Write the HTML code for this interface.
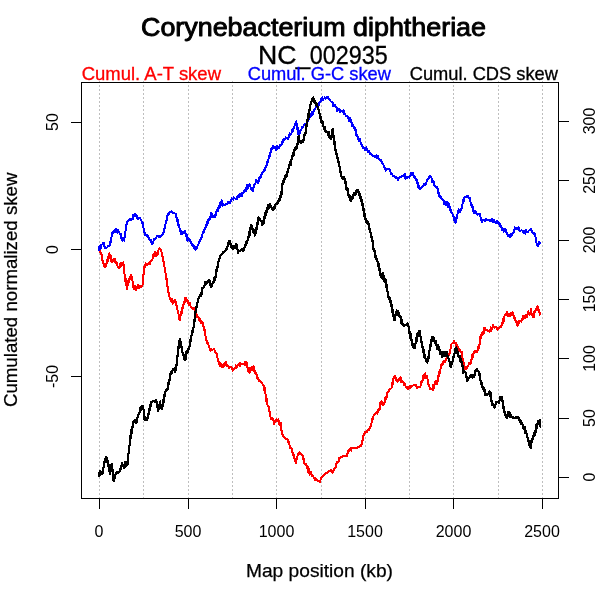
<!DOCTYPE html>
<html><head><meta charset="utf-8">
<style>
html,body{margin:0;padding:0;background:#fff;}
body{width:600px;height:600px;overflow:hidden;position:relative;font-family:"Liberation Sans",sans-serif;}
svg{position:absolute;left:0;top:0;will-change:transform;-webkit-font-smoothing:antialiased;}
text{font-family:"Liberation Sans",sans-serif;}
</style></head><body>
<svg width="600" height="600" viewBox="0 0 600 600">
<rect width="600" height="600" fill="#fff"/>
<!-- grid -->
<g stroke="#bebebe" stroke-width="1" stroke-dasharray="2,2" shape-rendering="crispEdges">
<line x1="99.5" y1="81" x2="99.5" y2="498"/>
<line x1="143.5" y1="81" x2="143.5" y2="498"/>
<line x1="188.5" y1="81" x2="188.5" y2="498"/>
<line x1="232.5" y1="81" x2="232.5" y2="498"/>
<line x1="276.5" y1="81" x2="276.5" y2="498"/>
<line x1="321.5" y1="81" x2="321.5" y2="498"/>
<line x1="365.5" y1="81" x2="365.5" y2="498"/>
<line x1="409.5" y1="81" x2="409.5" y2="498"/>
<line x1="453.5" y1="81" x2="453.5" y2="498"/>
<line x1="498.5" y1="81" x2="498.5" y2="498"/>
<line x1="542.5" y1="81" x2="542.5" y2="498"/>
</g>
<!-- CURVES -->
<g fill="none" stroke-linejoin="round" stroke-linecap="round" stroke-width="2.0" shape-rendering="crispEdges">
<path stroke="#ff0000" d="M98.7 249.7L99.1 248.8L99.5 251.2L99.8 252.4L100.2 250.3L100.6 253.7L101.0 254.5L101.3 253.0L101.7 255.8L101.9 258.0L102.1 254.9L102.2 257.8L102.4 258.3L102.6 262.2L102.8 260.3L103.0 261.6L103.1 262.6L103.3 263.4L103.5 263.0L103.7 264.7L103.8 265.5L104.0 266.6L104.2 266.7L104.7 266.6L105.1 265.8L105.6 266.6L106.1 264.3L106.6 263.2L107.0 260.2L107.5 261.7L107.7 261.2L107.9 260.7L108.2 259.8L108.4 256.4L108.6 257.8L108.8 256.6L109.0 258.6L109.3 253.2L109.5 255.0L109.7 254.2L109.9 254.6L110.1 256.3L110.4 256.3L110.6 255.3L110.8 258.5L111.0 258.6L111.3 257.5L111.5 262.1L111.7 260.8L112.3 262.3L113.0 259.8L113.6 259.8L114.2 259.2L114.5 259.8L114.9 258.5L115.2 260.8L115.6 263.4L115.9 262.1L116.2 263.3L116.6 263.7L116.9 263.0L117.3 263.8L117.6 266.3L118.0 266.5L118.3 267.5L118.9 266.9L119.4 268.2L120.0 265.4L120.5 262.8L121.1 265.4L121.6 265.7L122.2 263.2L122.7 263.3L123.3 262.5L123.4 262.9L123.5 264.5L123.6 264.5L123.7 265.5L123.8 266.2L123.9 266.6L124.0 268.7L124.1 268.5L124.2 269.3L124.2 270.7L124.3 270.8L124.4 269.9L124.5 274.3L124.6 274.2L124.7 274.3L124.8 274.9L124.9 278.0L125.0 276.7L125.1 278.1L125.3 278.3L125.4 281.4L125.5 277.4L125.7 280.7L125.8 282.9L125.9 282.6L126.1 282.7L126.2 283.9L126.3 285.1L126.5 283.8L126.6 284.3L126.7 286.8L126.9 289.3L127.0 288.3L127.2 288.0L127.4 287.4L127.5 285.5L127.7 284.7L127.9 282.7L128.1 283.3L128.3 280.9L128.5 282.1L128.6 281.1L128.8 282.5L129.0 280.0L129.2 279.2L129.6 280.0L130.0 279.2L130.5 276.6L130.9 274.9L131.3 275.8L131.5 276.7L131.6 278.9L131.8 276.3L132.0 279.3L132.2 280.1L132.3 280.8L132.5 280.9L132.7 281.4L132.8 283.4L133.0 283.3L133.2 284.2L133.4 287.7L133.5 285.4L133.7 286.7L134.2 289.5L134.8 286.2L135.3 286.2L135.8 289.2L136.1 290.0L136.5 287.6L136.8 288.6L137.2 288.1L137.5 285.8L137.9 284.8L138.3 285.2L138.8 285.4L139.2 288.3L139.9 286.1L140.5 287.3L141.2 286.3L141.8 286.7L142.5 285.8L142.6 283.4L142.6 281.9L142.7 282.9L142.8 283.2L142.9 282.4L142.9 278.7L143.0 280.4L143.1 279.5L143.1 279.3L143.2 279.7L143.3 275.4L143.3 278.6L143.4 275.5L143.5 274.6L143.6 273.6L143.6 270.8L143.7 272.9L143.8 273.5L143.8 270.2L143.9 269.6L144.0 268.6L144.1 269.7L144.1 267.5L144.2 266.7L144.5 265.9L144.8 265.7L145.2 266.8L145.5 264.3L145.8 263.3L146.4 264.0L146.9 264.6L147.5 265.0L148.0 264.0L148.5 264.2L149.0 263.1L149.5 263.1L150.0 264.3L150.5 261.3L151.0 261.3L151.5 260.8L152.0 260.4L152.5 259.2L152.7 258.0L152.9 255.2L153.1 257.4L153.3 256.1L153.6 255.4L153.8 254.8L154.0 254.1L154.2 253.3L154.7 256.0L155.2 252.0L155.8 253.3L156.3 255.8L156.6 255.7L156.9 254.7L157.2 253.1L157.5 252.3L157.8 252.7L158.0 253.7L158.3 250.2L158.6 249.9L158.9 249.1L159.2 248.3L159.6 248.4L160.0 249.4L160.4 248.7L160.9 250.8L161.3 251.5L161.7 252.5L161.9 253.7L162.0 254.7L162.2 254.8L162.3 256.0L162.5 256.2L162.6 256.7L162.8 257.5L162.9 258.8L163.1 259.9L163.3 259.8L163.4 261.2L163.6 261.9L163.7 262.7L163.9 265.6L164.0 264.3L164.2 265.0L164.3 266.1L164.4 266.1L164.6 267.2L164.7 268.8L164.8 269.3L164.9 270.1L165.0 272.6L165.2 272.0L165.3 272.8L165.4 272.9L165.5 273.3L165.6 274.8L165.7 276.0L165.9 276.3L166.0 277.2L166.1 277.1L166.2 278.2L166.3 279.0L166.5 278.0L166.6 281.3L166.7 281.7L166.8 282.8L166.9 283.4L167.1 283.7L167.2 285.3L167.3 285.1L167.4 286.4L167.6 286.6L167.7 288.3L167.8 288.5L167.9 288.9L168.1 290.9L168.2 290.9L168.3 292.0L168.4 291.0L168.6 292.8L168.7 294.2L168.9 295.5L169.2 295.6L169.4 295.8L169.6 297.5L169.9 297.9L170.1 298.9L170.3 299.2L170.6 299.7L170.8 300.8L171.4 301.5L172.1 299.3L172.7 303.8L173.3 302.5L173.8 302.2L174.3 300.8L174.8 300.2L175.3 300.0L175.5 300.7L175.6 301.8L175.8 302.0L176.0 302.6L176.1 305.6L176.3 304.3L176.5 305.7L176.7 305.6L176.8 306.9L177.0 306.3L177.2 307.8L177.3 309.5L177.5 310.0L177.7 310.8L177.8 312.1L178.0 312.5L178.2 311.6L178.3 313.8L178.5 314.2L178.7 317.3L178.9 315.8L179.0 316.7L179.2 318.2L179.4 317.8L179.5 319.7L179.7 320.0L179.9 319.1L180.1 319.1L180.2 318.2L180.4 316.5L180.6 315.6L180.8 313.4L181.0 312.8L181.2 314.5L181.3 311.2L181.5 314.7L181.7 311.7L181.9 310.5L182.1 309.7L182.3 307.2L182.5 308.8L182.7 308.0L182.9 305.0L183.0 305.9L183.2 305.8L183.4 305.4L183.6 304.1L183.8 303.5L184.0 303.0L184.2 301.7L184.5 303.2L184.9 300.6L185.2 298.1L185.6 299.4L186.0 297.6L186.3 297.5L186.6 300.2L187.0 300.3L187.3 299.5L187.6 302.6L188.0 300.9L188.3 301.7L188.7 302.1L189.0 304.6L189.4 305.3L189.7 302.9L190.1 304.8L190.4 305.4L190.8 306.7L191.6 307.0L192.5 309.2L193.3 307.5L193.7 308.7L194.2 308.3L194.6 309.4L195.0 310.0L195.3 311.2L195.6 311.5L195.8 314.5L196.1 315.0L196.4 315.2L196.7 316.8L196.9 315.0L197.2 315.8L197.5 316.7L198.1 317.7L198.8 318.0L199.4 320.9L200.0 319.2L200.5 319.8L201.0 323.0L201.5 321.8L202.0 322.4L202.5 322.5L202.7 323.7L202.8 326.0L203.0 325.1L203.2 325.8L203.3 326.8L203.5 326.9L203.7 328.4L203.9 328.1L204.0 327.2L204.2 330.0L204.4 330.3L204.6 331.9L204.7 329.8L204.9 333.4L205.1 331.7L205.3 334.1L205.4 333.3L205.6 337.5L205.8 337.4L206.0 337.4L206.2 338.6L206.3 339.8L206.5 340.3L206.7 340.8L207.0 342.1L207.3 342.6L207.5 343.7L207.8 342.4L208.1 344.4L208.4 344.7L208.6 346.0L208.9 346.7L209.2 347.5L209.8 348.8L210.4 350.9L211.1 349.4L211.7 350.0L212.5 349.8L213.4 349.2L214.2 349.2L214.5 350.1L214.8 350.4L215.1 352.0L215.4 352.1L215.8 352.9L216.1 353.1L216.4 353.8L216.7 355.0L216.9 356.4L217.1 354.0L217.3 357.4L217.5 357.9L217.7 359.4L217.9 360.1L218.2 360.8L218.4 361.1L218.6 361.7L218.8 362.6L219.0 363.4L219.2 364.2L219.8 366.3L220.4 363.1L221.1 365.6L221.7 366.7L222.2 366.7L222.6 366.1L223.1 364.8L223.6 366.6L224.1 364.0L224.5 363.7L225.0 362.5L225.5 362.6L226.0 362.2L226.5 366.0L227.0 364.6L227.5 365.8L228.3 365.6L229.2 368.3L230.0 366.5L230.8 366.7L231.5 367.0L232.2 368.3L232.8 370.6L233.5 369.4L234.2 369.2L234.8 368.2L235.3 368.3L235.8 365.3L236.4 368.4L236.9 366.6L237.5 365.8L238.2 365.2L238.8 364.8L239.5 362.7L240.1 366.2L240.8 363.3L241.6 364.0L242.5 364.3L243.3 364.2L243.9 364.1L244.6 365.4L245.2 362.0L245.8 361.7L246.0 362.3L246.2 363.6L246.4 365.5L246.7 363.1L246.9 363.3L247.1 365.6L247.3 366.5L247.5 367.5L247.9 367.9L248.3 371.0L248.8 367.5L249.2 372.3L249.6 373.0L250.0 371.7L250.5 369.4L250.9 370.3L251.4 367.7L251.9 367.3L252.4 368.3L252.8 370.0L253.3 367.5L253.6 365.9L253.9 368.6L254.1 369.4L254.4 371.0L254.7 372.6L255.0 371.5L255.2 370.5L255.5 372.0L255.8 374.2L256.2 374.7L256.6 373.9L256.9 378.2L257.3 377.4L257.7 379.5L258.1 378.4L258.4 379.1L258.8 380.3L259.2 380.8L259.8 381.4L260.4 381.5L261.1 382.2L261.7 382.5L262.1 383.3L262.5 383.8L262.9 384.8L263.4 384.7L263.8 385.6L264.2 386.7L264.3 389.1L264.4 390.7L264.6 387.2L264.7 391.2L264.8 390.4L264.9 391.7L265.1 392.2L265.2 392.8L265.3 391.2L265.4 392.5L265.6 395.5L265.7 395.7L265.8 396.7L266.0 399.8L266.1 398.9L266.3 401.1L266.4 399.9L266.6 398.0L266.7 401.1L266.9 402.5L267.0 403.1L267.2 403.4L267.3 404.1L267.5 405.0L267.7 405.1L268.0 405.8L268.2 406.5L268.5 405.8L268.7 408.9L269.0 409.7L269.2 410.0L269.3 411.4L269.5 411.5L269.6 412.8L269.8 412.5L269.9 414.3L270.1 412.1L270.2 415.8L270.4 416.2L270.5 417.2L270.7 419.4L270.8 418.3L271.4 419.1L272.1 419.6L272.7 418.2L273.3 420.0L273.7 421.2L274.1 423.7L274.6 421.4L275.0 422.5L275.6 422.0L276.1 419.7L276.6 419.2L277.2 420.7L277.8 419.9L278.3 419.5L278.6 420.2L278.9 421.2L279.2 423.5L279.6 424.8L279.9 422.6L280.2 423.3L280.5 424.5L280.7 422.8L280.8 425.9L281.0 427.2L281.1 427.1L281.3 427.8L281.4 430.9L281.6 430.2L281.7 430.7L281.9 430.8L282.0 432.8L282.2 433.2L282.3 433.4L282.5 434.5L282.9 435.8L283.4 435.6L283.8 436.8L284.2 437.5L284.9 438.2L285.5 438.5L286.2 438.8L286.8 438.9L287.5 439.2L287.7 441.4L288.0 440.5L288.2 441.5L288.5 442.7L288.7 441.4L289.0 443.4L289.2 444.2L289.5 444.5L289.8 447.9L290.1 447.0L290.4 447.2L290.8 448.1L291.1 448.5L291.4 447.6L291.7 450.0L291.9 448.5L292.2 451.8L292.4 451.8L292.7 454.8L292.9 453.1L293.2 455.1L293.4 452.9L293.7 455.6L293.9 457.3L294.2 457.5L294.4 458.3L294.6 458.5L294.8 459.1L295.0 459.8L295.2 461.0L295.4 462.0L295.6 460.1L295.8 463.3L296.0 462.1L296.1 463.6L296.3 460.7L296.5 460.1L296.6 459.0L296.8 458.4L297.0 457.8L297.2 457.4L297.3 456.9L297.5 455.8L298.1 453.8L298.8 454.1L299.4 452.4L300.0 453.3L300.6 453.8L301.2 454.2L301.9 455.1L302.5 455.0L302.7 455.4L302.8 456.7L303.0 457.7L303.2 458.3L303.4 459.2L303.5 459.6L303.7 460.3L303.9 458.9L304.0 462.3L304.2 462.5L304.6 463.7L305.0 464.3L305.4 464.3L305.9 463.7L306.3 464.1L306.7 466.7L307.1 467.7L307.4 467.9L307.8 466.7L308.1 471.9L308.5 468.2L308.8 473.0L309.2 471.7L309.6 474.5L310.0 473.4L310.4 473.5L310.9 472.1L311.3 472.7L311.7 475.8L312.3 476.2L312.9 476.1L313.6 477.2L314.2 477.5L314.8 480.2L315.4 478.5L316.1 479.3L316.7 479.2L317.3 480.4L317.9 481.0L318.6 481.0L319.2 481.7L319.6 480.8L320.0 481.7L320.4 480.0L320.9 478.8L321.3 477.6L321.7 477.5L322.2 476.3L322.8 475.9L323.4 476.4L323.9 474.7L324.4 474.2L325.0 474.2L325.7 473.1L326.3 473.0L327.0 472.8L327.6 472.8L328.3 471.7L328.9 470.8L329.6 471.0L330.2 470.9L330.8 470.0L331.2 470.4L331.6 470.9L332.1 472.2L332.5 472.5L332.9 471.4L333.2 471.4L333.6 470.1L333.9 469.1L334.3 469.5L334.6 468.1L335.0 467.5L335.3 468.4L335.6 467.5L335.9 465.7L336.2 464.2L336.6 463.9L336.9 462.9L337.2 461.8L337.5 461.7L338.0 461.4L338.5 462.2L339.0 457.5L339.5 459.2L340.0 458.3L340.7 457.4L341.3 456.9L342.0 457.4L342.6 456.6L343.3 455.8L344.1 456.2L345.0 455.7L345.9 456.0L346.7 455.8L347.1 455.7L347.4 453.7L347.8 453.2L348.1 452.3L348.5 450.2L348.8 449.9L349.2 450.8L349.7 450.1L350.2 449.3L350.7 448.4L351.2 450.7L351.7 447.5L352.5 447.9L353.4 447.9L354.2 448.3L355.0 448.3L355.8 448.2L356.7 448.3L357.5 447.4L358.4 447.0L359.2 447.2L359.7 446.6L360.2 446.1L360.7 446.0L361.2 444.9L361.7 444.2L361.8 444.0L362.0 442.8L362.1 444.1L362.3 441.2L362.4 440.5L362.6 441.0L362.7 439.2L362.9 437.9L363.0 436.9L363.2 436.3L363.3 435.8L363.8 434.7L364.3 433.9L364.8 432.2L365.3 432.6L365.8 432.5L366.4 431.6L367.1 431.8L367.7 430.0L368.3 430.0L368.7 429.1L369.0 429.0L369.4 430.4L369.7 426.8L370.1 426.7L370.4 427.4L370.8 425.0L371.0 424.8L371.3 423.9L371.5 423.3L371.7 421.6L371.9 419.1L372.2 422.3L372.4 420.0L372.6 419.3L372.8 418.5L373.1 417.4L373.3 416.7L373.8 414.6L374.3 415.4L374.8 414.7L375.3 414.1L375.8 413.3L376.3 412.4L376.8 411.8L377.3 413.8L377.7 410.4L378.2 412.2L378.7 409.2L379.2 409.2L379.4 408.5L379.6 410.2L379.8 406.4L380.0 404.4L380.2 404.9L380.4 402.8L380.6 403.4L380.8 403.3L381.6 401.2L382.5 405.3L383.4 405.1L384.2 402.5L384.5 403.1L384.8 400.5L385.0 400.3L385.3 397.9L385.6 397.4L385.9 398.3L386.1 398.8L386.4 399.0L386.7 395.8L387.0 393.2L387.3 394.6L387.6 392.2L387.9 392.3L388.3 392.5L388.6 391.7L388.9 391.2L389.2 390.0L389.8 389.7L390.4 388.5L391.1 388.5L391.7 387.5L391.8 387.2L392.0 386.2L392.1 382.9L392.3 384.3L392.4 382.1L392.6 382.9L392.7 384.7L392.9 381.8L393.0 380.7L393.2 379.8L393.3 379.2L393.9 377.8L394.4 376.0L395.0 377.0L395.4 376.1L395.7 377.9L396.1 380.6L396.4 379.2L396.8 380.1L397.1 381.1L397.5 381.7L398.1 381.6L398.8 380.7L399.4 377.9L400.0 379.2L400.7 377.5L401.3 382.4L402.0 381.3L402.6 381.7L403.3 381.7L403.7 382.8L404.0 383.3L404.4 385.2L404.7 383.1L405.1 385.0L405.4 385.6L405.8 386.7L406.4 387.0L407.1 388.0L407.7 387.0L408.3 389.2L408.9 388.3L409.4 386.3L410.0 388.0L410.6 387.5L411.1 386.3L411.7 385.8L412.5 385.6L413.4 385.3L414.2 385.0L414.8 385.5L415.3 384.5L415.9 385.3L416.4 386.8L416.9 387.2L417.5 388.3L418.3 386.6L419.2 387.4L420.0 387.5L420.2 386.9L420.5 386.2L420.8 384.6L421.0 384.5L421.2 381.4L421.5 382.8L421.8 382.3L422.0 382.1L422.2 380.5L422.5 380.0L422.8 379.6L423.1 380.4L423.4 375.2L423.7 376.8L424.1 376.8L424.4 377.9L424.7 377.3L425.0 373.4L425.3 373.3L425.6 375.4L425.9 375.4L426.1 377.8L426.4 376.2L426.7 376.7L426.9 376.0L427.2 378.5L427.5 379.2L427.7 380.5L427.9 380.7L428.1 382.1L428.3 380.8L428.5 385.1L428.7 384.4L428.8 384.7L429.0 384.7L429.2 386.2L429.4 386.4L429.6 387.1L429.8 388.9L430.0 389.2L430.8 389.5L431.7 388.9L432.5 389.2L432.8 390.1L433.1 385.3L433.4 387.7L433.6 388.3L433.9 386.2L434.2 385.0L434.8 384.4L435.3 381.4L435.9 382.8L436.4 381.1L436.9 383.9L437.5 381.7L437.7 380.9L437.9 379.9L438.0 379.4L438.2 379.0L438.4 375.6L438.6 376.8L438.8 376.5L438.9 375.0L439.1 374.6L439.3 373.7L439.5 370.9L439.6 373.9L439.8 371.5L440.0 370.8L440.2 370.2L440.4 370.0L440.6 368.6L440.9 367.7L441.1 367.6L441.3 364.4L441.5 365.1L441.7 365.0L442.1 363.9L442.5 363.5L442.9 362.4L443.4 363.9L443.8 361.3L444.2 360.8L444.9 362.3L445.5 360.3L446.2 359.3L446.8 357.0L447.5 358.3L447.8 356.0L448.1 356.5L448.4 356.6L448.8 353.5L449.1 355.3L449.4 354.5L449.7 353.1L450.0 352.5L450.1 351.5L450.2 351.2L450.4 350.7L450.5 348.9L450.6 346.8L450.7 348.0L450.8 347.7L450.9 346.5L451.1 346.0L451.2 345.1L451.3 344.2L452.0 343.6L452.6 343.1L453.3 342.5L454.1 340.5L455.0 343.1L455.8 342.5L456.1 345.7L456.5 343.9L456.8 344.7L457.2 345.8L457.5 346.5L457.8 347.1L458.2 348.4L458.5 348.2L458.9 349.6L459.2 350.0L459.8 350.2L460.4 351.8L461.1 352.0L461.7 352.5L461.8 353.7L461.9 351.7L462.0 354.4L462.2 355.0L462.3 357.8L462.4 356.7L462.5 358.2L462.6 359.0L462.7 361.2L462.8 360.8L463.0 360.7L463.1 361.3L463.2 360.0L463.3 363.3L463.5 366.1L463.7 362.4L463.9 365.8L464.1 366.4L464.4 365.4L464.6 367.8L464.8 367.0L465.0 369.2L465.6 369.3L466.1 366.4L466.6 368.2L467.2 366.3L467.8 366.0L468.3 365.8L468.9 363.0L469.6 364.2L470.2 363.3L470.8 363.3L471.0 360.2L471.2 361.7L471.4 361.1L471.5 360.2L471.7 359.4L471.9 359.3L472.1 357.9L472.3 357.8L472.4 354.8L472.6 357.6L472.8 355.0L473.0 354.2L473.7 352.4L474.4 353.1L475.1 350.7L475.8 352.5L476.3 352.4L476.8 351.4L477.3 352.2L477.7 349.9L478.2 347.1L478.7 347.0L479.2 348.3L479.3 345.7L479.4 344.8L479.5 343.7L479.5 345.3L479.6 342.9L479.7 344.0L479.8 343.1L479.9 341.8L480.0 341.2L480.0 340.4L480.1 337.8L480.2 338.9L480.3 338.3L480.6 335.2L480.9 335.5L481.1 336.8L481.4 337.5L481.7 334.8L481.9 333.3L482.2 332.9L482.5 332.5L483.0 331.8L483.5 333.5L484.0 330.4L484.5 327.6L485.0 329.2L485.6 329.3L486.2 329.8L486.9 330.3L487.5 330.8L488.2 331.4L489.0 331.5L489.7 331.7L490.1 331.4L490.5 328.9L490.9 327.3L491.3 331.3L491.7 328.3L492.4 327.7L493.0 325.1L493.7 327.3L494.3 327.6L495.0 326.7L495.7 326.5L496.3 327.4L497.0 327.8L497.6 329.7L498.3 328.3L499.1 328.3L500.0 327.1L500.8 327.5L501.1 326.2L501.4 326.2L501.6 325.4L501.9 324.0L502.2 323.7L502.4 322.5L502.7 320.1L503.0 321.7L503.2 323.2L503.4 318.6L503.7 321.9L503.9 318.6L504.1 317.7L504.3 316.7L504.6 315.9L504.8 315.7L505.0 315.0L505.6 315.0L506.2 314.6L506.9 311.5L507.5 313.3L508.1 316.4L508.8 315.1L509.4 314.7L510.0 315.8L510.5 313.5L511.0 314.3L511.5 313.6L512.0 314.7L512.5 312.5L512.8 313.5L513.1 313.9L513.4 315.2L513.6 315.3L513.9 318.5L514.2 316.7L514.5 317.8L514.7 317.9L515.0 320.6L515.3 318.9L515.5 320.3L515.8 320.8L516.0 321.8L516.3 322.3L516.5 321.0L516.8 325.4L517.0 324.5L517.3 325.0L517.5 325.8L517.7 325.0L518.0 324.5L518.2 323.2L518.5 324.8L518.7 321.7L519.0 321.5L519.2 320.8L519.9 321.1L520.6 321.2L521.3 321.7L521.5 321.0L521.8 319.9L522.0 319.7L522.3 319.1L522.5 319.9L522.8 317.0L523.0 316.4L523.3 315.8L523.7 315.8L524.1 316.6L524.6 318.3L525.0 318.3L525.5 318.1L526.0 315.2L526.5 314.7L527.0 317.1L527.5 315.0L528.0 314.2L528.4 311.5L528.9 313.0L529.4 314.7L529.9 312.5L530.3 313.8L530.8 310.8L531.0 309.0L531.3 312.6L531.5 313.7L531.8 313.5L532.0 313.9L532.3 315.8L532.5 315.5L532.8 315.3L533.0 317.5L533.2 316.3L533.5 316.7L533.8 315.8L534.0 317.0L534.2 312.0L534.5 312.6L534.8 312.8L535.0 311.7L535.3 310.7L535.6 310.5L535.9 309.0L536.3 308.3L536.6 308.6L536.9 307.6L537.2 306.7L537.5 309.4L537.8 306.4L538.1 308.6L538.3 310.1L538.6 308.9L538.9 312.4L539.2 311.7L539.8 314.6L540.3 313.3"/>
<path stroke="#0000ff" d="M98.7 249.7L99.1 249.7L99.5 246.6L100.0 249.4L100.4 245.0L100.8 248.5L101.2 246.3L101.6 244.9L102.0 244.5L102.5 244.3L102.9 243.7L103.3 242.5L103.5 243.1L103.8 243.5L104.0 243.3L104.3 244.9L104.5 246.8L104.8 246.4L105.0 248.0L105.3 248.3L105.9 248.4L106.6 247.7L107.2 247.5L107.8 246.0L108.4 246.2L109.1 245.5L109.7 245.0L109.9 244.8L110.0 243.9L110.2 243.2L110.4 241.8L110.6 241.7L110.8 240.3L110.9 241.9L111.1 239.3L111.3 238.3L111.5 236.9L111.6 236.9L111.8 235.6L112.0 234.7L112.2 234.0L112.3 233.5L112.5 232.5L113.2 232.6L113.9 231.3L114.6 232.3L115.3 229.7L116.0 228.8L116.7 230.8L117.3 232.9L118.0 229.8L118.6 231.4L119.2 232.5L119.5 232.8L119.8 233.4L120.1 234.1L120.4 234.9L120.7 234.0L121.0 236.4L121.3 238.2L121.6 237.2L121.9 239.5L122.2 239.8L122.5 240.8L123.1 240.0L123.6 239.9L124.2 239.2L124.3 240.7L124.4 237.9L124.6 236.4L124.7 235.8L124.8 237.5L124.9 234.5L125.0 233.6L125.2 233.3L125.3 231.7L125.4 231.5L125.5 231.1L125.6 229.3L125.7 227.4L125.9 228.1L126.0 227.9L126.1 226.1L126.2 225.3L126.3 225.1L126.5 224.4L126.6 225.0L126.7 222.5L127.4 221.6L128.1 221.2L128.8 220.7L129.4 219.3L130.1 219.0L130.8 220.0L131.3 219.3L131.7 218.5L132.2 218.4L132.7 219.3L133.1 214.4L133.6 216.2L134.1 215.7L134.5 214.2L135.0 214.2L135.4 214.4L135.7 215.9L136.1 216.1L136.4 216.9L136.8 215.4L137.1 217.8L137.5 219.2L138.3 218.8L139.2 218.2L140.0 218.3L140.4 218.4L140.7 219.6L141.1 219.9L141.4 220.7L141.8 221.7L142.1 222.9L142.5 223.3L142.7 223.6L142.8 222.8L143.0 225.5L143.2 225.0L143.3 227.6L143.5 228.0L143.7 228.7L143.8 229.2L144.0 230.3L144.2 231.5L144.3 232.3L144.5 232.3L144.7 233.1L144.8 234.5L145.0 235.0L145.8 235.3L146.7 234.9L147.5 236.3L148.3 235.8L148.7 238.9L149.0 237.8L149.4 238.3L149.7 240.4L150.1 239.8L150.4 239.6L150.8 240.2L151.1 242.0L151.4 241.9L151.8 244.4L152.2 241.7L152.5 244.2L152.7 243.9L153.0 242.3L153.2 241.4L153.5 241.9L153.7 238.7L154.0 240.2L154.2 239.2L154.8 238.9L155.3 238.7L155.8 237.8L156.4 237.3L156.9 236.0L157.5 235.8L158.1 236.1L158.8 237.3L159.4 236.4L160.0 237.5L160.5 237.2L160.9 236.5L161.4 235.0L161.9 235.4L162.4 235.0L162.8 233.4L163.3 233.3L163.5 232.9L163.7 229.8L163.9 230.3L164.1 230.2L164.3 229.0L164.5 229.3L164.6 227.7L164.8 227.2L165.0 225.8L165.2 226.2L165.4 224.8L165.6 224.0L165.8 223.3L166.0 222.7L166.2 222.1L166.4 221.7L166.6 218.8L166.8 220.1L167.0 218.2L167.1 217.9L167.3 215.2L167.5 216.3L167.7 215.3L167.9 214.8L168.1 214.6L168.3 213.3L168.9 214.6L169.6 212.9L170.2 212.0L170.8 211.7L171.5 211.5L172.2 212.3L172.9 213.2L173.7 213.3L174.4 213.1L175.1 213.5L175.8 214.2L176.0 213.5L176.2 215.6L176.4 216.2L176.6 219.0L176.8 218.5L177.1 218.3L177.3 220.2L177.5 222.0L177.7 219.1L177.9 222.3L178.1 220.2L178.3 223.3L178.5 225.9L178.7 224.6L178.9 226.2L179.2 226.7L179.4 227.5L179.6 228.5L179.8 229.1L180.0 229.2L180.2 230.5L180.4 230.9L180.7 233.7L180.9 230.9L181.1 234.1L181.3 234.2L181.9 231.9L182.5 233.6L183.2 232.4L183.8 231.6L184.4 231.2L185.0 230.8L185.2 231.7L185.5 233.9L185.7 233.7L185.9 233.6L186.1 236.3L186.4 235.0L186.6 234.4L186.8 237.3L187.0 236.1L187.3 240.7L187.5 239.2L188.3 237.7L189.2 239.9L190.0 240.0L190.3 241.4L190.6 241.4L190.9 241.9L191.2 243.0L191.6 243.7L191.9 245.0L192.2 245.0L192.5 245.8L193.0 246.5L193.5 245.3L194.0 247.3L194.5 248.5L195.0 249.2L195.5 250.2L195.9 247.1L196.4 248.7L196.9 248.5L197.4 247.0L197.8 244.6L198.3 244.2L198.7 243.6L199.0 241.4L199.4 241.4L199.7 241.1L200.1 240.3L200.4 239.2L200.8 239.2L201.1 238.1L201.3 238.1L201.6 237.1L201.8 236.4L202.1 236.0L202.3 235.1L202.6 234.0L202.8 232.7L203.1 232.0L203.3 231.7L203.7 232.8L204.1 230.1L204.4 229.9L204.8 228.7L205.2 228.3L205.6 226.9L205.9 226.8L206.3 225.1L206.7 225.0L207.1 223.9L207.4 221.4L207.8 223.2L208.1 222.1L208.5 219.1L208.8 220.1L209.2 220.0L209.5 217.7L209.8 219.1L210.0 217.2L210.3 217.5L210.6 216.9L210.9 217.7L211.1 212.9L211.4 214.3L211.7 213.3L212.2 214.2L212.7 217.2L213.2 217.1L213.7 216.0L214.2 217.4L214.7 217.5L214.9 214.6L215.1 215.9L215.3 215.0L215.5 214.2L215.7 215.6L215.9 213.5L216.1 211.7L216.3 211.7L216.5 211.1L216.7 210.0L217.2 209.4L217.7 211.1L218.2 208.5L218.7 205.8L219.2 206.7L219.5 205.7L219.8 207.6L220.1 206.9L220.4 202.2L220.7 205.3L221.0 202.3L221.3 201.7L221.7 200.4L222.1 203.6L222.5 206.0L222.9 204.0L223.3 205.0L224.1 205.4L225.0 204.8L225.8 204.4L226.7 204.4L227.5 204.2L228.2 202.2L228.8 203.1L229.5 203.3L230.1 202.2L230.8 201.7L231.3 200.6L231.8 198.2L232.2 198.9L232.7 198.8L233.2 199.7L233.7 197.5L234.4 198.0L235.2 198.5L235.9 199.1L236.7 199.2L237.2 197.2L237.8 196.5L238.3 195.4L238.9 197.5L239.4 194.2L240.0 195.8L240.6 193.9L241.1 194.4L241.7 196.4L242.2 193.1L242.8 193.2L243.3 192.5L243.8 192.2L244.3 190.9L244.8 190.2L245.3 189.4L245.8 189.2L246.2 190.9L246.6 185.4L247.1 189.0L247.5 184.9L247.9 187.9L248.3 185.0L248.9 186.2L249.6 184.2L250.2 186.5L250.8 187.5L251.1 189.6L251.5 188.2L251.8 188.0L252.2 189.6L252.5 190.8L252.7 190.2L252.9 191.2L253.1 188.2L253.3 189.3L253.6 186.7L253.8 187.1L254.0 186.2L254.2 185.0L254.7 184.3L255.2 184.3L255.7 182.5L256.2 179.8L256.7 181.7L257.3 181.4L257.9 182.8L258.6 182.1L259.2 180.0L259.5 176.9L259.8 177.9L260.1 178.3L260.4 177.2L260.8 176.6L261.1 177.4L261.4 174.9L261.7 174.2L262.1 173.6L262.5 172.7L262.9 172.4L263.4 171.4L263.8 171.0L264.2 170.0L264.6 169.9L264.9 170.7L265.3 168.5L265.6 167.0L266.0 166.8L266.3 165.5L266.7 165.0L266.9 164.0L267.2 161.7L267.4 163.4L267.6 161.9L267.8 161.3L268.1 160.7L268.3 160.3L268.5 159.2L268.7 157.6L269.0 156.9L269.2 156.7L269.4 155.8L269.7 155.5L269.9 156.7L270.2 153.7L270.4 152.6L270.7 152.3L270.9 151.2L271.2 149.3L271.4 150.2L271.7 149.2L272.0 147.9L272.3 148.4L272.7 148.7L273.0 146.9L273.3 145.8L273.9 146.7L274.6 146.8L275.2 147.8L275.8 148.3L276.4 150.4L277.1 145.5L277.7 147.3L278.3 146.7L279.0 147.8L279.7 145.8L280.3 144.7L281.0 144.7L281.7 144.2L282.2 143.1L282.6 140.4L283.1 142.4L283.6 138.8L284.1 138.7L284.5 140.2L285.0 139.2L285.7 137.5L286.3 138.3L287.0 138.1L287.6 139.4L288.3 137.5L288.7 137.4L289.1 136.9L289.6 133.2L290.0 135.6L290.4 134.7L290.9 134.3L291.3 133.2L291.7 132.5L292.1 130.2L292.4 131.6L292.8 130.6L293.1 129.1L293.5 129.4L293.8 128.0L294.2 127.5L294.5 126.2L294.9 124.6L295.2 123.5L295.5 122.7L295.9 124.1L296.2 123.0L296.4 121.5L296.5 124.1L296.7 123.8L296.9 126.7L297.0 126.8L297.2 127.1L297.3 129.0L297.5 129.2L297.7 127.6L297.9 131.3L298.1 134.0L298.4 133.1L298.6 131.3L298.8 134.2L299.1 133.1L299.5 132.2L299.8 133.7L300.1 130.8L300.5 130.6L300.8 130.0L301.2 129.5L301.6 128.8L302.1 126.6L302.5 127.0L302.9 127.2L303.4 126.4L303.8 125.1L304.2 125.0L304.8 124.5L305.3 123.5L305.9 123.6L306.4 124.3L306.9 124.4L307.5 121.7L307.9 120.7L308.3 118.4L308.7 119.8L309.1 117.0L309.6 116.5L310.0 115.5L310.4 116.7L310.8 115.8L311.2 115.0L311.6 112.2L312.1 113.2L312.5 115.2L312.9 111.7L313.4 111.9L313.8 111.4L314.2 110.0L314.7 109.0L315.1 108.6L315.6 107.7L316.1 107.0L316.6 106.3L317.0 105.7L317.5 105.0L318.0 104.7L318.4 103.9L318.9 105.6L319.4 102.0L319.9 102.0L320.3 101.6L320.8 100.8L321.5 98.5L322.2 97.3L322.8 99.9L323.5 98.8L324.2 98.3L324.8 97.4L325.4 99.0L326.1 97.4L326.7 96.7L327.3 96.9L327.9 97.3L328.6 99.1L329.2 99.2L329.8 99.6L330.4 100.8L331.1 101.6L331.7 101.7L332.2 102.5L332.7 103.0L333.2 105.8L333.7 106.3L334.2 105.0L334.7 105.0L335.1 106.3L335.6 107.1L336.1 106.8L336.6 107.9L337.0 111.1L337.5 109.2L338.2 109.7L338.9 109.1L339.6 109.9L340.3 112.4L341.0 110.4L341.7 110.8L342.2 110.8L342.8 112.3L343.4 110.0L343.9 112.4L344.4 114.3L345.0 114.2L345.5 115.1L345.9 116.0L346.4 116.1L346.9 116.0L347.4 115.8L347.8 118.3L348.3 118.3L348.7 119.0L349.1 121.2L349.6 117.7L350.0 120.3L350.4 121.7L350.9 121.9L351.3 120.2L351.7 123.3L352.1 124.1L352.4 126.2L352.8 124.8L353.1 125.8L353.5 127.0L353.8 127.1L354.2 128.3L354.5 126.9L354.9 130.1L355.2 130.2L355.5 128.8L355.9 132.3L356.2 134.5L356.5 135.7L356.8 134.7L357.2 135.7L357.5 135.8L357.8 139.1L358.1 137.3L358.4 139.8L358.7 138.7L359.0 140.1L359.3 141.0L359.6 138.7L359.9 141.3L360.2 140.7L360.5 141.5L360.8 144.2L361.3 144.3L361.8 144.8L362.3 145.9L362.7 148.5L363.2 146.5L363.7 147.1L364.2 148.3L364.9 150.2L365.5 149.3L366.2 147.4L366.8 148.5L367.5 150.8L368.1 152.0L368.7 152.0L369.3 151.0L369.9 153.8L370.5 153.2L371.1 154.4L371.7 155.0L372.4 155.0L373.0 156.1L373.7 155.8L374.3 155.8L375.0 156.7L375.7 156.5L376.4 155.1L377.1 157.9L377.8 156.0L378.5 159.2L379.2 159.2L379.7 159.2L380.1 160.1L380.6 161.4L381.1 160.1L381.6 161.8L382.0 162.2L382.5 163.3L382.9 163.5L383.2 164.3L383.6 165.0L383.9 165.6L384.3 167.4L384.6 167.0L385.0 168.3L385.8 170.7L386.7 168.9L387.5 169.3L388.4 169.2L389.2 169.2L389.6 169.3L389.9 170.7L390.3 170.8L390.6 172.4L391.0 173.4L391.3 174.0L391.7 174.2L392.3 174.4L392.9 175.9L393.6 175.8L394.2 176.7L394.9 176.9L395.5 177.7L396.2 177.2L396.8 177.4L397.5 178.3L398.3 180.0L399.2 177.3L400.0 177.5L400.7 177.4L401.3 177.5L402.0 176.0L402.6 175.8L403.3 175.8L404.0 176.4L404.7 173.9L405.4 179.1L406.1 176.9L406.8 176.6L407.5 177.5L408.1 177.5L408.8 177.3L409.4 177.7L410.0 175.8L410.6 175.6L411.2 172.8L411.9 174.2L412.5 173.3L412.8 174.0L413.2 172.6L413.5 175.5L413.9 176.7L414.2 176.7L414.7 177.5L415.2 176.5L415.7 178.5L416.2 179.9L416.7 180.0L416.9 181.3L417.2 183.0L417.4 182.3L417.7 183.3L417.9 183.7L418.2 184.6L418.4 187.7L418.7 188.3L418.9 186.9L419.2 187.4L419.4 186.2L419.7 189.2L420.3 189.3L420.8 188.1L421.4 188.2L421.9 187.5L422.5 186.7L423.2 185.9L423.8 183.6L424.5 184.8L425.1 185.2L425.8 184.2L426.0 183.2L426.3 182.2L426.5 182.4L426.8 179.7L427.0 180.7L427.3 179.6L427.5 179.2L428.0 178.7L428.5 178.1L429.0 177.3L429.5 177.6L430.0 175.8L430.5 175.8L430.8 176.9L431.1 176.7L431.4 177.9L431.6 178.3L431.9 179.8L432.2 182.4L432.5 180.8L432.8 181.4L433.1 182.3L433.4 180.6L433.6 181.9L433.9 183.7L434.2 185.0L434.8 185.4L435.4 186.7L436.1 186.9L436.7 187.5L437.0 188.1L437.3 186.6L437.5 188.1L437.8 190.2L438.1 193.6L438.4 191.3L438.6 194.9L438.9 193.0L439.2 194.2L439.6 197.4L440.0 195.5L440.4 195.7L440.9 196.5L441.3 198.0L441.7 198.3L442.2 199.2L442.6 200.1L443.1 199.7L443.6 200.7L444.1 203.7L444.5 201.7L445.0 202.5L445.6 205.4L446.2 203.5L446.8 203.8L447.4 201.9L448.0 207.2L448.6 203.1L449.2 205.8L449.5 206.0L449.8 209.0L450.0 208.5L450.3 210.8L450.6 209.5L450.9 210.3L451.1 210.5L451.4 212.3L451.7 212.5L452.1 213.1L452.4 213.6L452.8 214.5L453.1 215.9L453.5 216.0L453.8 217.0L454.2 217.5L454.4 220.5L454.6 219.2L454.9 220.6L455.1 220.7L455.3 222.1L455.5 222.5L455.6 222.1L455.8 221.1L455.9 218.9L456.1 219.8L456.2 218.7L456.4 217.6L456.6 218.8L456.7 218.9L456.9 215.9L457.0 215.0L457.3 214.5L457.6 213.5L457.9 212.2L458.3 211.7L458.6 209.5L458.9 210.1L459.2 210.0L459.9 211.9L460.6 209.5L461.3 210.0L461.5 208.8L461.6 208.1L461.8 207.9L461.9 205.2L462.1 205.8L462.2 205.3L462.4 204.3L462.5 204.0L462.7 203.7L462.8 200.7L463.0 201.7L463.3 199.3L463.6 200.2L463.9 201.7L464.1 199.1L464.4 197.6L464.7 197.4L465.0 196.7L465.8 197.0L466.7 196.4L467.5 195.8L467.9 196.3L468.3 197.8L468.8 198.5L469.2 198.0L469.6 199.3L470.0 200.0L470.2 198.2L470.4 201.3L470.7 202.4L470.9 203.1L471.1 204.0L471.3 204.9L471.6 205.5L471.8 206.0L472.0 206.7L472.3 205.3L472.6 206.3L472.9 209.3L473.3 211.1L473.6 212.1L473.9 213.3L474.2 211.7L474.8 210.7L475.4 212.4L476.1 211.8L476.7 214.2L477.4 214.7L478.2 213.7L478.9 214.2L479.7 214.2L479.9 214.5L480.1 213.5L480.3 216.1L480.5 217.2L480.7 218.9L480.9 217.7L481.1 217.7L481.3 220.8L482.0 222.5L482.8 220.3L483.5 220.2L484.3 220.8L485.0 220.8L485.8 218.7L486.6 220.2L487.5 220.1L488.3 220.0L489.1 220.4L490.0 221.0L490.9 220.3L491.7 220.8L492.4 218.8L493.0 221.8L493.7 221.6L494.3 220.4L495.0 222.5L495.7 222.6L496.4 222.6L497.1 221.0L497.8 222.3L498.5 223.6L499.2 224.2L499.6 223.1L500.0 225.3L500.4 226.6L500.9 227.5L501.3 225.8L501.7 228.3L502.4 230.2L503.0 228.9L503.7 231.8L504.3 229.1L505.0 230.0L505.4 230.7L505.7 229.3L506.1 232.5L506.4 232.4L506.8 233.4L507.1 233.8L507.5 235.0L508.3 236.3L509.1 235.0L510.0 236.8L510.8 234.2L511.6 235.7L512.5 233.3L513.3 233.3L513.6 232.4L513.9 231.4L514.1 231.5L514.4 230.5L514.7 227.4L515.0 229.2L515.6 228.5L516.2 228.8L516.9 228.1L517.5 227.5L517.8 227.5L518.2 227.3L518.5 230.0L518.9 228.0L519.2 230.8L520.0 231.2L520.9 230.5L521.7 230.3L522.5 230.8L523.2 231.7L523.9 233.3L524.6 231.2L525.3 233.6L526.0 230.2L526.7 232.5L527.4 231.8L528.0 231.8L528.7 230.8L529.3 230.3L530.0 230.0L530.6 228.9L531.2 229.4L531.9 231.8L532.5 232.5L533.1 233.0L533.8 233.1L534.4 234.1L535.0 234.2L535.1 235.4L535.3 235.4L535.4 236.8L535.5 237.2L535.7 238.4L535.8 239.1L535.9 239.7L536.1 239.2L536.2 241.7L536.5 242.6L536.7 245.5L537.0 243.6L537.2 245.1L537.5 245.8L538.1 245.7L538.8 242.2L539.4 244.4L540.0 243.3"/>
<path stroke="#000000" stroke-width="2.2" d="M98.7 475.8L99.0 473.1L99.4 474.6L99.8 471.0L100.1 473.1L100.5 474.6L100.8 471.7L101.7 471.9L102.5 472.5L102.7 471.3L102.8 473.5L103.0 469.5L103.1 469.5L103.3 467.9L103.4 467.8L103.6 467.6L103.8 466.9L103.9 465.9L104.1 465.4L104.2 463.3L104.4 461.2L104.5 462.8L104.7 461.4L104.8 460.9L105.0 460.0L105.3 459.0L105.7 460.8L106.0 458.1L106.3 456.7L106.5 457.7L106.7 461.0L106.9 459.0L107.1 459.2L107.2 460.5L107.4 460.4L107.6 462.6L107.8 460.5L108.0 463.3L108.2 466.2L108.3 464.3L108.5 466.0L108.7 466.5L108.8 467.8L109.0 465.0L109.2 468.0L109.3 468.7L109.5 472.1L109.7 468.1L109.8 471.5L110.0 472.5L110.2 473.8L110.3 470.8L110.5 470.5L110.6 471.6L110.8 468.3L110.9 468.7L111.1 467.3L111.2 469.3L111.4 465.5L111.5 464.4L111.7 464.2L111.8 464.8L111.9 466.5L112.0 466.3L112.1 467.6L112.2 467.6L112.3 469.4L112.4 470.1L112.5 468.9L112.6 471.8L112.7 472.3L112.8 473.3L112.9 473.3L113.1 475.2L113.2 475.1L113.4 475.9L113.5 479.5L113.6 480.6L113.8 478.1L113.9 480.0L114.1 477.3L114.2 480.8L114.4 479.6L114.5 477.3L114.7 478.7L114.8 477.6L115.0 476.4L115.2 476.4L115.3 475.6L115.5 474.7L115.6 473.7L115.8 473.3L116.5 472.3L117.2 472.2L117.8 472.8L118.5 472.0L119.2 471.7L119.5 471.7L119.9 469.5L120.2 469.8L120.5 469.4L120.8 468.5L121.2 467.7L121.5 465.9L121.8 462.9L122.2 465.6L122.5 464.2L122.8 465.5L123.1 464.8L123.3 465.7L123.6 467.2L123.9 467.5L124.2 468.3L124.4 467.6L124.6 466.3L124.8 465.8L125.0 464.8L125.2 462.4L125.4 464.0L125.6 463.0L125.8 461.7L126.1 464.0L126.5 465.4L126.8 463.0L127.2 464.8L127.5 465.0L127.6 464.6L127.6 461.8L127.7 463.2L127.8 463.8L127.9 460.9L127.9 460.4L128.0 459.1L128.1 458.2L128.1 458.3L128.2 456.5L128.3 458.6L128.3 455.7L128.4 454.1L128.5 453.4L128.6 453.7L128.6 453.2L128.7 451.7L128.8 450.2L128.9 452.6L129.0 451.2L129.1 445.7L129.2 448.3L129.3 446.6L129.4 445.6L129.5 445.6L129.6 445.0L129.8 444.1L129.9 442.3L130.0 441.4L130.1 443.0L130.2 438.1L130.3 440.3L130.4 439.5L130.5 435.7L130.6 438.1L130.7 437.1L130.8 435.8L130.9 433.3L131.1 434.9L131.2 436.2L131.3 430.8L131.4 429.7L131.6 431.8L131.7 433.1L131.8 430.3L132.0 428.4L132.1 428.5L132.2 427.1L132.4 426.5L132.5 425.9L132.6 427.6L132.7 421.9L132.9 423.6L133.0 422.5L133.5 422.0L134.0 420.7L134.5 420.1L135.0 420.0L135.2 421.5L135.4 421.7L135.6 422.7L135.8 423.3L136.0 422.7L136.3 422.5L136.5 420.7L136.7 422.1L136.9 419.1L137.2 419.3L137.4 418.3L137.6 416.8L137.8 417.1L138.1 415.0L138.3 415.0L138.7 413.6L139.0 414.0L139.4 412.2L139.7 412.7L140.1 411.9L140.4 408.0L140.8 410.0L141.2 406.8L141.7 405.9L142.1 406.1L142.6 407.7L143.0 406.7L143.1 405.6L143.2 407.5L143.3 409.4L143.5 409.1L143.6 410.4L143.7 413.4L143.8 411.5L143.9 414.6L144.0 414.3L144.1 416.9L144.2 415.1L144.4 416.2L144.5 417.2L144.6 420.0L144.7 418.3L145.4 418.3L146.0 419.2L146.7 420.0L146.9 419.5L147.1 418.0L147.4 418.0L147.6 418.7L147.8 415.7L148.0 415.9L148.3 414.9L148.5 414.0L148.7 413.3L148.9 412.0L149.0 409.2L149.2 411.4L149.3 409.9L149.5 410.0L149.7 410.6L149.8 407.7L150.0 407.0L150.2 406.8L150.3 406.1L150.5 407.2L150.6 404.2L150.8 403.3L151.4 402.1L152.1 402.2L152.7 401.3L153.3 400.8L154.0 400.6L154.7 402.0L155.3 401.9L156.0 400.4L156.7 402.5L156.8 404.8L157.0 404.6L157.1 404.6L157.3 405.6L157.4 407.0L157.6 406.7L157.7 407.8L157.9 408.9L158.0 407.1L158.2 410.0L158.3 410.8L158.5 408.5L158.6 409.5L158.8 408.7L159.0 408.4L159.2 404.7L159.3 408.7L159.5 405.5L159.7 406.8L159.8 404.3L160.0 403.3L160.2 401.5L160.4 404.5L160.6 406.2L160.8 406.2L161.1 407.0L161.3 405.6L161.5 408.8L161.7 409.2L161.9 408.4L162.0 409.5L162.2 406.1L162.3 406.4L162.5 405.2L162.6 406.5L162.8 403.8L162.9 402.5L163.1 400.3L163.3 401.9L163.4 400.1L163.6 402.0L163.7 398.5L163.9 398.2L164.0 395.4L164.2 396.7L164.4 395.2L164.6 394.8L164.8 396.1L165.0 393.3L165.2 394.8L165.4 391.7L165.6 391.7L165.8 390.8L166.2 389.9L166.7 390.2L167.1 389.6L167.5 388.3L167.7 387.7L167.9 389.2L168.1 385.5L168.3 386.1L168.4 383.9L168.6 382.3L168.8 383.1L169.0 384.2L169.2 381.7L169.3 380.9L169.5 380.8L169.6 378.7L169.7 378.8L169.9 377.2L170.0 377.6L170.1 378.6L170.3 376.0L170.4 375.3L170.5 373.9L170.7 373.1L170.8 372.5L171.3 374.0L171.8 371.5L172.3 371.0L172.8 370.2L173.3 369.2L173.7 370.1L174.2 369.8L174.6 368.4L175.0 371.7L175.2 369.0L175.3 370.7L175.5 367.3L175.7 369.1L175.8 367.8L176.0 369.8L176.2 366.2L176.4 365.6L176.5 364.5L176.7 364.2L176.8 364.1L176.9 362.1L176.9 361.2L177.0 360.6L177.1 360.2L177.2 360.1L177.3 359.2L177.3 357.8L177.4 356.3L177.5 356.4L177.6 354.8L177.7 354.3L177.7 355.7L177.8 353.2L177.9 352.7L178.0 351.2L178.1 350.6L178.1 352.5L178.2 346.9L178.3 348.3L178.4 346.9L178.6 346.8L178.7 348.1L178.9 345.4L179.0 347.2L179.2 341.6L179.3 341.0L179.4 341.8L179.6 344.3L179.7 340.6L179.9 340.6L180.0 339.2L180.1 339.9L180.3 340.6L180.4 342.1L180.6 342.9L180.7 341.4L180.8 341.4L181.0 342.6L181.1 345.0L181.3 346.4L181.4 346.2L181.6 347.4L181.7 348.3L181.9 346.9L182.1 349.5L182.2 351.0L182.4 352.0L182.6 352.7L182.8 353.5L182.9 355.4L183.1 354.8L183.3 355.0L183.5 355.5L183.8 355.1L184.0 357.0L184.2 356.8L184.5 359.6L184.7 360.0L184.9 360.0L185.1 358.6L185.3 357.4L185.5 359.7L185.7 356.7L185.9 355.1L186.1 354.7L186.3 353.8L186.5 350.9L186.7 352.5L187.1 352.4L187.5 350.7L187.9 352.6L188.4 349.8L188.8 347.4L189.2 348.3L189.3 346.8L189.5 346.7L189.6 346.3L189.8 345.9L189.9 344.2L190.1 343.3L190.2 339.9L190.4 341.9L190.5 341.2L190.7 340.4L190.8 339.2L191.0 338.9L191.1 338.7L191.3 338.0L191.4 335.8L191.6 335.9L191.7 335.0L191.9 333.9L192.1 334.1L192.2 330.7L192.4 332.6L192.6 331.4L192.8 332.2L193.0 330.2L193.2 328.6L193.3 328.9L193.5 327.3L193.7 326.7L193.8 325.4L193.9 322.9L194.0 324.7L194.1 323.0L194.2 322.2L194.3 322.6L194.4 321.9L194.5 320.3L194.6 319.6L194.8 318.9L194.9 320.9L195.0 314.8L195.1 316.3L195.2 317.3L195.3 314.4L195.4 311.4L195.5 311.1L195.6 312.0L195.7 312.5L195.8 311.0L196.0 309.6L196.1 307.3L196.3 308.8L196.5 307.0L196.6 306.5L196.8 305.5L197.0 306.0L197.1 306.8L197.3 303.8L197.5 302.9L197.6 302.3L197.8 300.9L198.0 300.4L198.1 299.5L198.3 299.0L198.7 298.7L199.0 298.2L199.4 296.7L199.7 295.7L200.1 294.9L200.4 294.4L200.8 294.2L201.1 292.9L201.4 295.6L201.6 292.0L201.9 290.6L202.2 290.4L202.5 287.8L202.7 288.8L203.0 288.0L203.3 287.5L203.7 287.6L204.2 286.8L204.6 285.3L205.0 284.6L205.4 281.8L205.8 284.0L206.3 283.8L206.7 282.5L207.3 281.8L207.9 281.8L208.6 280.7L209.2 280.0L209.5 280.9L209.8 283.7L210.1 281.9L210.4 285.0L210.8 283.4L211.1 287.1L211.4 285.6L211.7 285.8L212.0 284.9L212.2 284.4L212.5 283.6L212.8 283.6L213.0 281.8L213.3 281.7L213.6 282.6L213.9 278.4L214.1 279.0L214.4 281.0L214.7 278.5L215.0 277.9L215.2 276.8L215.5 277.6L215.8 275.0L216.0 276.1L216.1 271.1L216.3 270.0L216.4 271.9L216.6 271.1L216.7 268.1L216.9 269.7L217.1 268.7L217.2 266.4L217.4 267.6L217.5 266.9L217.7 266.3L217.8 264.2L218.0 264.3L218.1 262.9L218.3 262.5L218.5 262.0L218.7 260.4L218.9 260.9L219.2 259.2L219.4 258.4L219.6 258.6L219.8 257.3L220.0 256.7L220.5 255.9L220.9 254.9L221.4 254.3L221.9 254.0L222.4 253.2L222.8 253.0L223.3 251.7L224.1 251.6L225.0 250.8L225.8 250.5L226.1 250.3L226.5 249.0L226.8 247.7L227.2 249.2L227.5 246.7L227.8 245.8L228.0 242.7L228.2 244.1L228.5 244.0L228.8 242.6L229.0 241.9L229.2 241.3L229.5 240.8L229.8 244.1L230.1 244.4L230.3 242.6L230.6 243.3L230.9 244.7L231.1 247.6L231.4 245.5L231.7 246.7L232.5 246.5L233.4 248.9L234.2 246.7L234.6 245.7L235.0 245.7L235.4 246.8L235.8 244.2L236.1 244.9L236.3 247.7L236.6 246.6L236.8 244.5L237.1 248.0L237.3 248.6L237.6 249.6L237.8 249.7L238.1 253.3L238.3 251.7L238.9 251.0L239.6 250.7L240.2 250.7L240.8 250.0L241.5 249.5L242.2 249.7L242.8 248.8L243.5 251.1L244.2 248.3L244.6 247.4L244.9 244.9L245.3 245.7L245.6 245.0L246.0 244.8L246.3 241.7L246.7 243.3L246.9 242.0L247.2 241.2L247.4 240.5L247.6 240.4L247.8 239.2L248.1 239.1L248.3 239.7L248.5 237.2L248.7 236.1L249.0 235.3L249.2 235.0L249.3 234.2L249.4 231.6L249.6 235.2L249.7 231.3L249.8 231.5L249.9 232.4L250.1 227.9L250.2 228.5L250.3 227.9L250.4 227.7L250.6 226.8L250.7 226.2L250.8 225.0L251.1 228.0L251.4 225.7L251.7 225.3L252.1 227.9L252.4 229.1L252.7 229.1L253.0 230.0L253.2 232.5L253.4 229.3L253.6 231.6L253.8 233.2L254.1 233.1L254.3 231.6L254.5 232.6L254.7 235.8L254.9 235.1L255.0 234.4L255.2 233.4L255.4 231.1L255.5 231.9L255.7 233.5L255.9 231.2L256.0 227.7L256.2 228.9L256.4 228.0L256.5 229.3L256.7 226.7L256.9 224.1L257.0 224.5L257.2 224.5L257.4 223.8L257.5 222.1L257.7 223.9L257.9 221.3L258.0 221.3L258.2 220.4L258.4 221.4L258.5 217.8L258.7 217.5L259.1 218.2L259.5 219.5L260.0 218.9L260.4 219.8L260.8 220.8L261.2 221.1L261.6 221.8L262.0 220.7L262.4 225.1L262.8 224.2L263.0 221.8L263.2 222.6L263.4 224.3L263.5 221.1L263.7 220.1L263.9 217.5L264.1 218.2L264.3 217.7L264.4 219.6L264.6 216.5L264.8 215.1L265.0 215.0L265.3 214.2L265.5 212.7L265.8 215.5L266.0 212.2L266.3 211.0L266.5 210.5L266.8 211.8L267.0 209.3L267.3 207.6L267.5 209.8L267.8 206.5L268.0 208.1L268.3 205.0L268.9 206.2L269.6 207.7L270.2 203.9L270.8 206.7L271.2 207.3L271.7 207.9L272.1 208.5L272.6 209.1L273.0 210.0L273.3 209.1L273.6 208.4L273.9 207.3L274.1 207.5L274.4 208.9L274.7 207.9L275.0 205.0L275.7 204.5L276.3 203.5L277.0 203.7L277.6 203.6L278.3 202.5L278.7 198.9L279.0 199.4L279.4 201.0L279.7 200.2L280.1 198.8L280.4 195.7L280.8 197.5L280.9 196.7L281.0 195.9L281.1 192.8L281.2 194.4L281.3 191.6L281.4 194.6L281.5 193.8L281.6 190.9L281.7 189.9L281.8 189.7L281.9 188.8L282.0 188.5L282.1 187.6L282.2 185.7L282.3 183.7L282.4 184.4L282.5 184.0L282.8 181.2L283.1 184.5L283.4 182.6L283.8 179.3L284.1 180.0L284.4 179.7L284.7 179.4L285.0 178.5L285.3 177.4L285.6 175.5L285.8 176.1L286.1 177.2L286.4 175.1L286.7 176.5L286.9 176.0L287.2 173.1L287.5 172.0L287.8 170.6L288.1 172.4L288.3 169.2L288.6 168.8L288.9 168.5L289.2 167.1L289.4 166.6L289.7 163.3L290.0 165.0L290.2 161.8L290.5 165.4L290.7 162.0L290.9 164.7L291.1 160.5L291.4 159.9L291.6 159.6L291.8 159.4L292.0 158.5L292.3 157.5L292.5 156.7L292.8 153.5L293.0 153.3L293.2 153.7L293.5 155.3L293.8 153.6L294.0 154.7L294.2 151.9L294.5 150.0L294.8 148.1L295.0 149.2L295.4 147.9L295.7 147.7L296.1 147.3L296.4 149.0L296.8 145.2L297.1 147.0L297.5 144.2L297.6 143.5L297.8 142.4L297.9 142.4L298.0 140.9L298.2 143.0L298.3 139.6L298.4 138.9L298.6 135.9L298.7 137.5L298.9 140.5L299.1 141.4L299.4 139.6L299.6 140.9L299.8 142.1L300.0 142.5L300.8 142.8L301.7 141.3L302.5 141.7L302.8 141.4L303.1 140.1L303.3 142.0L303.6 139.3L303.9 135.2L304.2 136.8L304.4 135.9L304.7 135.3L305.0 135.0L305.1 133.6L305.2 133.2L305.4 133.3L305.5 132.3L305.6 133.5L305.7 130.9L305.9 129.4L306.0 126.8L306.1 127.8L306.2 125.1L306.3 126.0L306.5 126.2L306.6 125.0L306.7 124.2L306.9 122.7L307.0 122.9L307.2 122.0L307.3 120.8L307.5 120.1L307.6 119.4L307.8 118.6L307.9 117.8L308.1 114.3L308.3 118.4L308.4 113.5L308.6 117.4L308.7 114.6L308.9 116.1L309.0 115.2L309.2 111.7L309.3 111.6L309.5 109.9L309.6 109.8L309.7 108.4L309.9 108.0L310.0 105.2L310.1 108.1L310.3 105.5L310.4 105.4L310.5 104.6L310.7 102.8L310.8 102.5L311.2 102.3L311.5 101.5L311.9 99.9L312.2 99.2L312.6 99.0L312.9 98.0L313.3 97.5L313.5 98.8L313.7 98.8L313.9 99.6L314.1 100.4L314.4 101.9L314.6 102.2L314.8 100.8L315.0 103.3L315.5 103.8L316.0 104.9L316.5 103.3L317.0 105.9L317.5 106.7L317.7 107.8L317.9 107.6L318.1 109.6L318.4 109.7L318.6 109.6L318.8 111.2L319.0 111.5L319.2 112.5L319.4 112.7L319.6 113.6L319.8 115.1L320.0 115.8L320.2 116.2L320.4 118.5L320.6 116.8L320.8 118.3L321.0 119.0L321.3 121.9L321.5 122.5L321.7 121.1L321.9 122.0L322.2 121.3L322.4 121.8L322.6 122.1L322.8 125.6L323.1 126.1L323.3 126.7L323.7 127.1L324.1 128.8L324.6 128.0L325.0 127.0L325.4 131.9L325.8 130.8L326.4 130.9L327.1 132.0L327.7 133.2L328.3 133.3L328.7 136.6L329.0 132.2L329.4 135.1L329.7 135.7L330.1 136.2L330.4 138.2L330.8 138.3L331.0 137.0L331.2 138.7L331.4 135.4L331.6 135.5L331.8 134.3L332.0 132.1L332.2 133.0L332.4 131.9L332.6 128.9L332.8 130.8L332.9 132.2L333.0 132.4L333.1 132.4L333.2 131.7L333.3 137.5L333.4 135.8L333.5 135.8L333.6 137.7L333.7 135.6L333.8 139.2L333.9 138.6L334.0 140.7L334.1 141.5L334.2 141.7L334.3 139.7L334.5 141.4L334.6 144.5L334.8 144.7L334.9 145.2L335.1 145.6L335.2 147.1L335.4 149.7L335.5 150.2L335.7 149.5L335.8 150.0L336.0 150.7L336.1 154.0L336.3 151.9L336.4 154.8L336.6 153.5L336.7 154.6L336.9 154.8L337.0 153.8L337.2 156.2L337.3 156.9L337.5 158.3L337.7 159.4L337.9 159.5L338.1 158.3L338.3 161.2L338.4 162.6L338.6 163.2L338.8 161.7L339.0 164.2L339.2 165.0L339.3 165.6L339.5 166.9L339.6 167.0L339.8 167.9L339.9 168.2L340.1 169.8L340.2 169.8L340.4 171.0L340.5 172.0L340.7 173.1L340.8 174.3L341.0 174.5L341.2 175.1L341.4 176.1L341.5 176.3L341.7 177.5L342.3 177.3L342.9 179.2L343.5 178.7L344.1 177.0L344.7 180.0L344.9 183.0L345.1 181.3L345.2 182.7L345.4 181.0L345.6 183.7L345.8 182.1L346.0 188.0L346.2 186.7L346.3 186.6L346.5 189.9L346.7 188.3L346.9 189.2L347.2 190.2L347.4 187.9L347.6 190.6L347.8 194.4L348.1 194.4L348.3 193.3L348.5 195.0L348.7 197.0L349.0 195.9L349.2 196.7L349.6 195.5L349.9 200.0L350.2 198.1L350.6 197.4L350.9 200.7L351.3 200.8L351.6 197.4L351.9 198.9L352.2 198.4L352.4 198.6L352.7 196.7L353.0 194.5L353.3 195.8L353.9 193.2L354.6 194.9L355.2 194.0L355.8 194.2L356.2 190.9L356.5 192.9L356.9 190.3L357.3 191.8L357.6 190.7L358.0 190.0L358.3 191.3L358.7 194.0L359.0 191.5L359.3 192.6L359.7 196.3L360.0 194.2L360.2 197.8L360.4 195.8L360.6 196.6L360.8 197.8L361.0 200.4L361.2 201.0L361.4 199.6L361.6 199.7L361.8 200.7L362.0 201.7L362.1 200.2L362.3 203.0L362.4 205.6L362.6 204.0L362.7 208.3L362.9 208.8L363.0 206.8L363.2 208.0L363.3 209.0L363.5 209.3L363.6 210.7L363.8 209.1L363.9 211.2L364.1 210.3L364.2 213.3L364.4 216.0L364.6 215.2L364.7 213.8L364.9 216.7L365.1 217.4L365.3 219.6L365.4 218.4L365.6 219.1L365.8 220.0L366.2 222.6L366.7 220.8L367.1 221.2L367.6 222.1L368.0 223.3L368.2 224.2L368.4 222.7L368.7 226.2L368.9 225.9L369.1 227.0L369.3 229.3L369.6 228.6L369.8 229.4L370.0 230.0L370.2 231.0L370.3 231.9L370.5 232.3L370.6 232.5L370.8 233.1L370.9 234.1L371.1 235.0L371.2 235.3L371.4 236.2L371.5 236.9L371.7 238.3L371.8 238.7L372.0 239.8L372.1 240.4L372.3 238.5L372.4 241.6L372.6 240.6L372.7 242.1L372.9 244.3L373.0 245.7L373.2 246.1L373.3 246.7L373.5 250.0L373.7 248.7L373.8 248.4L374.0 249.2L374.2 249.8L374.4 251.2L374.6 251.6L374.8 253.0L374.9 251.1L375.1 256.9L375.3 255.0L375.5 255.1L375.8 255.9L376.0 256.7L376.3 255.7L376.5 259.0L376.8 260.0L377.0 259.8L377.3 261.1L377.5 261.7L377.7 263.0L377.9 263.4L378.1 264.2L378.4 266.3L378.6 265.5L378.8 264.0L379.0 267.4L379.2 267.5L379.4 267.6L379.6 271.2L379.7 269.9L379.9 271.2L380.1 271.7L380.3 270.5L380.4 274.9L380.6 273.8L380.8 274.2L381.0 274.5L381.2 275.7L381.3 276.5L381.5 277.3L381.7 278.3L382.0 277.4L382.3 277.4L382.7 279.1L383.0 273.4L383.3 275.0L383.6 275.3L383.8 275.8L384.1 277.6L384.3 278.2L384.6 281.5L384.8 279.3L385.1 279.8L385.3 281.6L385.6 279.2L385.8 282.5L385.9 283.6L386.1 286.8L386.2 285.1L386.4 283.1L386.5 287.0L386.6 286.4L386.8 287.1L386.9 290.5L387.1 287.1L387.2 290.5L387.4 291.5L387.5 291.7L387.7 292.5L387.8 293.3L388.0 293.3L388.2 294.4L388.4 296.0L388.5 296.3L388.7 298.9L388.9 299.4L389.0 298.9L389.2 299.2L389.4 297.3L389.7 301.2L389.9 302.0L390.2 302.2L390.4 300.4L390.7 304.1L390.9 304.3L391.2 305.9L391.4 303.7L391.7 306.7L391.9 307.3L392.0 308.0L392.2 309.6L392.4 309.9L392.5 312.6L392.7 311.2L392.9 310.1L393.0 313.4L393.2 313.4L393.4 316.2L393.5 315.3L393.7 316.5L393.9 316.8L394.0 317.4L394.2 318.3L394.5 320.2L394.8 317.0L395.2 316.0L395.5 314.0L395.8 315.0L396.1 314.1L396.4 314.0L396.6 310.6L396.9 314.8L397.2 311.6L397.5 310.8L397.8 312.0L398.1 312.0L398.4 313.7L398.8 313.0L399.1 316.5L399.4 315.1L399.7 315.7L400.0 316.7L400.2 317.3L400.5 316.3L400.8 319.7L401.0 317.3L401.2 320.9L401.5 323.8L401.8 319.5L402.0 323.2L402.2 324.0L402.5 324.2L403.1 324.1L403.6 325.9L404.2 325.8L404.8 325.4L405.4 325.3L406.1 324.6L406.7 324.2L407.2 324.2L407.7 323.6L408.2 325.9L408.7 326.7L408.8 327.7L409.0 329.8L409.1 328.5L409.3 329.6L409.4 330.5L409.5 331.9L409.7 335.0L409.8 332.2L410.0 334.4L410.1 334.2L410.2 337.8L410.4 333.2L410.5 334.3L410.7 339.2L410.8 338.3L411.0 338.6L411.2 340.0L411.5 339.9L411.7 342.0L411.9 342.0L412.1 341.0L412.4 345.6L412.6 344.4L412.8 345.6L413.0 344.3L413.3 345.0L413.5 347.7L413.7 348.3L414.0 347.1L414.2 344.1L414.5 345.8L414.8 348.2L415.0 345.3L415.3 343.5L415.5 343.9L415.8 342.5L416.0 341.8L416.1 341.5L416.3 340.0L416.4 337.5L416.6 341.4L416.7 335.6L416.9 338.9L417.0 336.0L417.2 337.4L417.3 334.2L417.5 334.2L417.9 335.9L418.3 332.9L418.7 332.5L419.1 333.6L419.5 330.8L419.6 331.3L419.8 332.4L419.9 332.6L420.0 333.2L420.1 334.5L420.3 335.8L420.4 335.6L420.5 336.8L420.7 336.8L420.8 338.3L420.9 338.7L421.1 341.8L421.2 338.7L421.4 341.2L421.5 342.9L421.7 342.8L421.8 344.1L422.0 344.4L422.1 343.3L422.3 345.4L422.4 347.5L422.6 347.1L422.7 348.9L422.9 351.0L423.0 350.0L423.2 348.3L423.4 352.0L423.6 349.4L423.8 355.0L424.0 356.6L424.2 354.8L424.4 353.4L424.6 358.0L424.8 357.0L425.0 357.5L425.3 358.5L425.7 359.2L426.0 359.4L426.3 359.7L426.6 361.6L427.0 361.6L427.3 362.5L427.4 361.2L427.6 361.3L427.8 360.2L427.9 358.7L428.1 359.3L428.2 357.2L428.4 356.7L428.5 358.8L428.6 355.8L428.8 354.4L428.9 354.1L429.1 353.1L429.2 352.7L429.4 351.3L429.6 350.6L429.7 349.3L429.9 346.5L430.0 348.3L430.2 347.0L430.3 347.3L430.5 346.4L430.7 342.9L430.8 346.1L431.0 344.0L431.2 340.3L431.3 341.4L431.5 341.0L431.7 340.0L431.8 340.2L432.0 339.1L432.2 340.5L432.3 338.1L432.5 336.7L432.9 337.0L433.3 338.3L433.8 338.3L434.2 341.0L434.6 340.4L435.0 340.8L435.3 343.2L435.6 342.7L435.9 343.4L436.2 341.5L436.6 346.1L436.9 344.6L437.2 348.7L437.5 346.7L437.9 347.5L438.2 345.3L438.6 349.6L439.0 347.4L439.3 347.9L439.7 350.5L440.1 354.0L440.4 351.0L440.8 353.3L441.5 353.4L442.2 356.9L442.8 351.9L443.5 355.9L444.2 355.8L444.7 355.4L445.1 352.2L445.6 353.3L446.0 355.8L446.5 352.8L446.8 351.8L447.1 351.9L447.4 355.1L447.7 356.4L448.0 356.8L448.3 357.5L448.5 358.3L448.8 361.1L449.0 360.6L449.2 360.7L449.4 360.7L449.6 362.3L449.9 362.4L450.1 364.0L450.3 366.6L450.6 365.1L450.8 364.0L451.0 366.8L451.2 365.9L451.4 363.6L451.6 364.0L451.9 364.4L452.1 363.7L452.3 362.7L452.5 361.7L452.7 360.6L452.8 357.5L453.0 359.6L453.2 360.9L453.4 358.6L453.5 356.6L453.7 356.3L453.9 355.4L454.0 357.5L454.2 354.2L454.4 354.2L454.7 352.9L454.9 352.5L455.1 349.0L455.4 350.5L455.6 351.9L455.8 349.0L456.1 348.6L456.3 347.5L456.5 348.8L456.7 349.6L457.0 349.2L457.2 351.0L457.4 351.3L457.6 354.0L457.9 353.2L458.1 351.7L458.3 354.2L458.6 356.5L459.0 355.9L459.3 356.8L459.7 356.2L460.0 357.5L460.3 358.1L460.6 361.6L460.9 359.3L461.1 359.7L461.4 360.9L461.7 361.7L461.8 364.3L461.9 365.8L462.1 363.3L462.2 364.4L462.3 363.7L462.4 366.9L462.6 366.9L462.7 365.9L462.8 368.1L462.9 370.1L463.1 372.6L463.2 369.0L463.3 371.7L464.1 371.4L465.0 372.0L465.8 372.5L466.0 373.5L466.1 373.4L466.3 376.9L466.4 377.7L466.6 376.6L466.7 379.4L466.9 380.4L467.0 378.5L467.2 381.4L467.3 380.2L467.5 380.8L467.9 380.3L468.3 377.6L468.8 378.0L469.2 378.2L469.6 377.1L470.0 376.7L470.7 374.8L471.3 376.0L472.0 375.5L472.6 377.5L473.3 375.0L473.9 375.0L474.4 376.5L475.0 373.3L475.3 370.5L475.6 371.2L475.9 371.2L476.1 369.9L476.4 370.0L476.7 369.2L477.2 369.4L477.8 370.6L478.3 371.5L478.8 372.0L479.0 374.5L479.1 374.0L479.3 375.0L479.4 372.9L479.6 374.1L479.8 376.0L479.9 380.2L480.1 376.2L480.2 377.1L480.4 380.0L480.6 381.3L480.8 381.0L481.0 384.4L481.3 383.3L481.5 382.3L481.7 385.0L482.1 386.3L482.5 386.8L482.9 389.2L483.3 387.5L483.6 389.9L483.8 388.3L484.1 391.4L484.3 391.0L484.6 391.0L484.8 389.5L485.1 394.7L485.3 393.2L485.6 394.3L485.8 395.0L486.6 395.0L487.5 393.9L488.3 394.2L488.7 392.9L489.1 392.8L489.6 391.6L490.0 391.7L490.1 392.0L490.2 395.7L490.4 391.6L490.5 395.0L490.6 395.4L490.7 396.7L490.9 396.8L491.0 400.7L491.1 399.1L491.2 398.9L491.3 400.9L491.5 400.4L491.6 402.0L491.7 402.5L492.1 405.3L492.4 403.9L492.8 404.2L493.1 404.7L493.5 405.6L493.8 407.3L494.2 407.5L494.5 407.3L494.8 405.4L495.1 405.0L495.4 404.5L495.8 403.9L496.1 403.6L496.4 401.9L496.7 401.7L497.4 401.6L498.0 402.3L498.7 403.3L498.9 402.7L499.1 402.4L499.3 400.8L499.5 400.7L499.7 399.8L499.9 399.0L500.1 398.8L500.3 397.9L500.5 396.7L500.8 399.5L501.1 397.6L501.4 398.8L501.6 396.9L501.9 399.6L502.2 400.9L502.5 401.7L502.6 400.5L502.8 405.2L502.9 404.1L503.0 404.1L503.2 408.1L503.3 406.6L503.4 406.5L503.5 406.2L503.7 407.9L503.8 411.2L503.9 409.9L504.1 411.0L504.2 411.7L504.5 411.9L504.8 413.6L505.0 414.2L505.3 415.3L505.6 415.4L505.9 416.5L506.1 417.3L506.4 417.3L506.7 418.3L506.9 417.9L507.1 416.4L507.3 415.2L507.5 416.9L507.7 413.4L507.9 413.4L508.1 413.2L508.3 411.7L508.8 412.1L509.3 415.6L509.8 413.0L510.3 416.9L510.8 415.0L511.3 416.0L511.8 416.5L512.3 416.9L512.8 417.0L513.3 418.3L514.0 417.9L514.7 417.7L515.4 418.0L516.1 416.8L516.8 417.5L517.5 416.7L517.9 417.8L518.3 418.1L518.8 418.3L519.2 420.2L519.6 420.0L520.0 420.8L520.4 421.0L520.8 424.1L521.2 420.9L521.7 423.4L522.1 423.6L522.5 425.0L522.8 425.4L523.2 428.5L523.5 429.0L523.9 427.8L524.2 428.3L524.5 426.7L524.8 430.2L525.1 429.9L525.4 432.9L525.7 431.1L526.0 433.1L526.3 433.3L526.5 433.8L526.7 434.4L527.0 434.9L527.2 436.5L527.4 436.9L527.6 437.2L527.9 439.1L528.1 440.8L528.3 440.0L528.5 441.1L528.7 442.0L528.9 442.8L529.1 443.6L529.3 443.6L529.5 444.1L529.7 447.2L529.9 445.6L530.1 446.0L530.3 447.5L530.5 446.9L530.6 445.6L530.8 448.0L530.9 444.4L531.1 444.4L531.2 440.7L531.4 441.9L531.5 442.2L531.7 441.0L531.8 439.2L532.0 439.2L532.4 438.6L532.7 439.6L533.1 437.7L533.5 436.4L533.8 433.4L534.2 435.0L534.4 432.6L534.6 434.0L534.8 434.8L535.0 434.7L535.2 433.2L535.4 433.3L535.6 429.8L535.8 429.2L536.0 427.8L536.3 428.3L536.5 424.9L536.8 424.0L537.0 428.3L537.3 425.1L537.5 424.2L537.9 423.0L538.2 420.9L538.6 422.6L539.0 422.0L539.3 420.6L539.7 420.0L539.8 421.5L539.9 422.2L540.0 420.4L540.0 425.5L540.1 424.0L540.2 426.6L540.3 425.8"/>
</g>
<!-- /CURVES -->
<!-- frame -->
<g stroke="#000" stroke-width="1" fill="none" shape-rendering="crispEdges">
<rect x="81.5" y="82.5" width="477" height="416"/>
<!-- x ticks -->
<path d="M99.5 498.5V508.5M188.5 498.5V508.5M276.5 498.5V508.5M365.5 498.5V508.5M453.5 498.5V508.5M542.5 498.5V508.5"/>
<!-- left y ticks -->
<path d="M81.5 122.5H70.5M81.5 249.5H70.5M81.5 376.5H70.5"/>
<!-- right y ticks -->
<path d="M558.5 477.5H568.5M558.5 418.5H568.5M558.5 358.5H568.5M558.5 299.5H568.5M558.5 240.5H568.5M558.5 180.5H568.5M558.5 121.5H568.5"/>
</g>
<!-- text -->
<text x="313.5" y="36" font-size="25" stroke="#000" stroke-width="0.9" stroke-linejoin="round" text-anchor="middle" textLength="345" lengthAdjust="spacingAndGlyphs">Corynebacterium diphtheriae</text>
<g font-size="25" stroke="#000" stroke-width="0.3"><text x="258" y="63.5" textLength="38.5" lengthAdjust="spacingAndGlyphs">NC</text><text x="295.8" y="63.5" textLength="14.4" lengthAdjust="spacingAndGlyphs">_</text><text x="309.8" y="63.5" textLength="78" lengthAdjust="spacingAndGlyphs">002935</text></g>
<text x="81.7" y="80" font-size="18.5" fill="#ff0000" stroke="#ff0000" stroke-width="0.3" textLength="139.3" lengthAdjust="spacingAndGlyphs">Cumul. A-T skew</text>
<text x="247.7" y="80" font-size="18.5" fill="#0000ff" stroke="#0000ff" stroke-width="0.3" textLength="143.3" lengthAdjust="spacingAndGlyphs">Cumul. G-C skew</text>
<text x="409.7" y="80" font-size="18.5" stroke="#000" stroke-width="0.3" textLength="148.3" lengthAdjust="spacingAndGlyphs">Cumul. CDS skew</text>
<g font-size="16" text-anchor="middle">
<text x="99" y="536.5">0</text><text x="188" y="536.5">500</text><text x="276.5" y="536.5">1000</text><text x="365" y="536.5">1500</text><text x="453.5" y="536.5">2000</text><text x="542" y="536.5">2500</text>
</g>
<text x="319.5" y="576.5" font-size="19" stroke="#000" stroke-width="0.25" text-anchor="middle" textLength="147" lengthAdjust="spacingAndGlyphs">Map position (kb)</text>
<g font-size="16" text-anchor="middle">
<text transform="translate(58,122) rotate(-90)">50</text>
<text transform="translate(58,249.5) rotate(-90)">0</text>
<text transform="translate(58,376.5) rotate(-90)">-50</text>
<text transform="translate(595,477) rotate(-90)">0</text>
<text transform="translate(595,418) rotate(-90)">50</text>
<text transform="translate(595,358.5) rotate(-90)">100</text>
<text transform="translate(595,299) rotate(-90)">150</text>
<text transform="translate(595,240) rotate(-90)">200</text>
<text transform="translate(595,180.5) rotate(-90)">250</text>
<text transform="translate(595,121) rotate(-90)">300</text>
</g>
<text transform="translate(17.2,289.8) rotate(-90)" font-size="19" stroke="#000" stroke-width="0.25" text-anchor="middle" textLength="234.5" lengthAdjust="spacingAndGlyphs">Cumulated normalized skew</text>
</svg>
</body></html>
